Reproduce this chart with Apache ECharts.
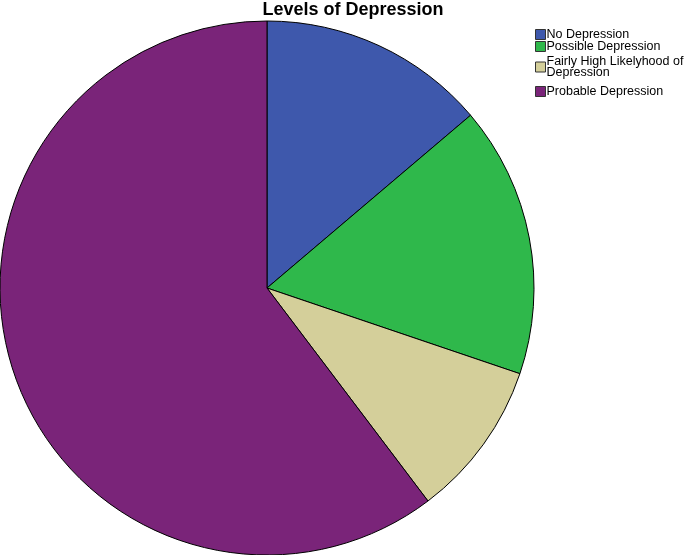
<!DOCTYPE html>
<html><head><meta charset="utf-8">
<script src="https://cdn.jsdelivr.net/npm/echarts@6/dist/echarts.min.js"></script>
<style>html,body{margin:0;padding:0;background:#fff}#c{width:685px;height:555px}</style>
</head><body><div id="c"></div>
<script>
const categories = ['No Depression', 'Possible Depression', 'Fairly High Likelyhood of\nDepression', 'Probable Depression'];
const values = [13.8, 16.4, 9.5, 60.3];
const colors = ['#3E58AC', '#2FB84B', '#D4CF9A', '#7A2479'];
const legendTops = [28, 40, 55, 85];

const chart = echarts.init(document.getElementById('c'));
chart.setOption({
  animation: false,
  title: {
    text: 'Levels of Depression', left: 348, top: -4, textAlign: 'center',
    textStyle: { fontFamily: 'Liberation Sans, Arial', fontSize: 18, fontWeight: 'bold', color: '#000' }
  },
  legend: categories.map((c, i) => ({
    orient: 'vertical', left: 535, top: legendTops[i], padding: 0,
    itemWidth: 10, itemHeight: 10, itemGap: 0,
    icon: 'rect',
    selectedMode: false,
    data: [c],
    textStyle: { fontFamily: 'Liberation Sans, Arial', fontSize: 12.5, color: '#000', padding: [0, 0, 0, -4], lineHeight: i === 2 ? 11 : 12 },
    itemStyle: { borderColor: '#333', borderWidth: 1 }
  })),
  series: [{
    type: 'pie',
    center: [267, 288],
    radius: 267,
    startAngle: 90,
    clockwise: true,
    label: { show: false },
    labelLine: { show: false },
    itemStyle: { borderColor: '#000', borderWidth: 1 },
    emphasis: { disabled: true },
    data: categories.map((n, i) => ({ name: n, value: values[i], itemStyle: { color: colors[i] } }))
  }]
});
</script></body></html>
